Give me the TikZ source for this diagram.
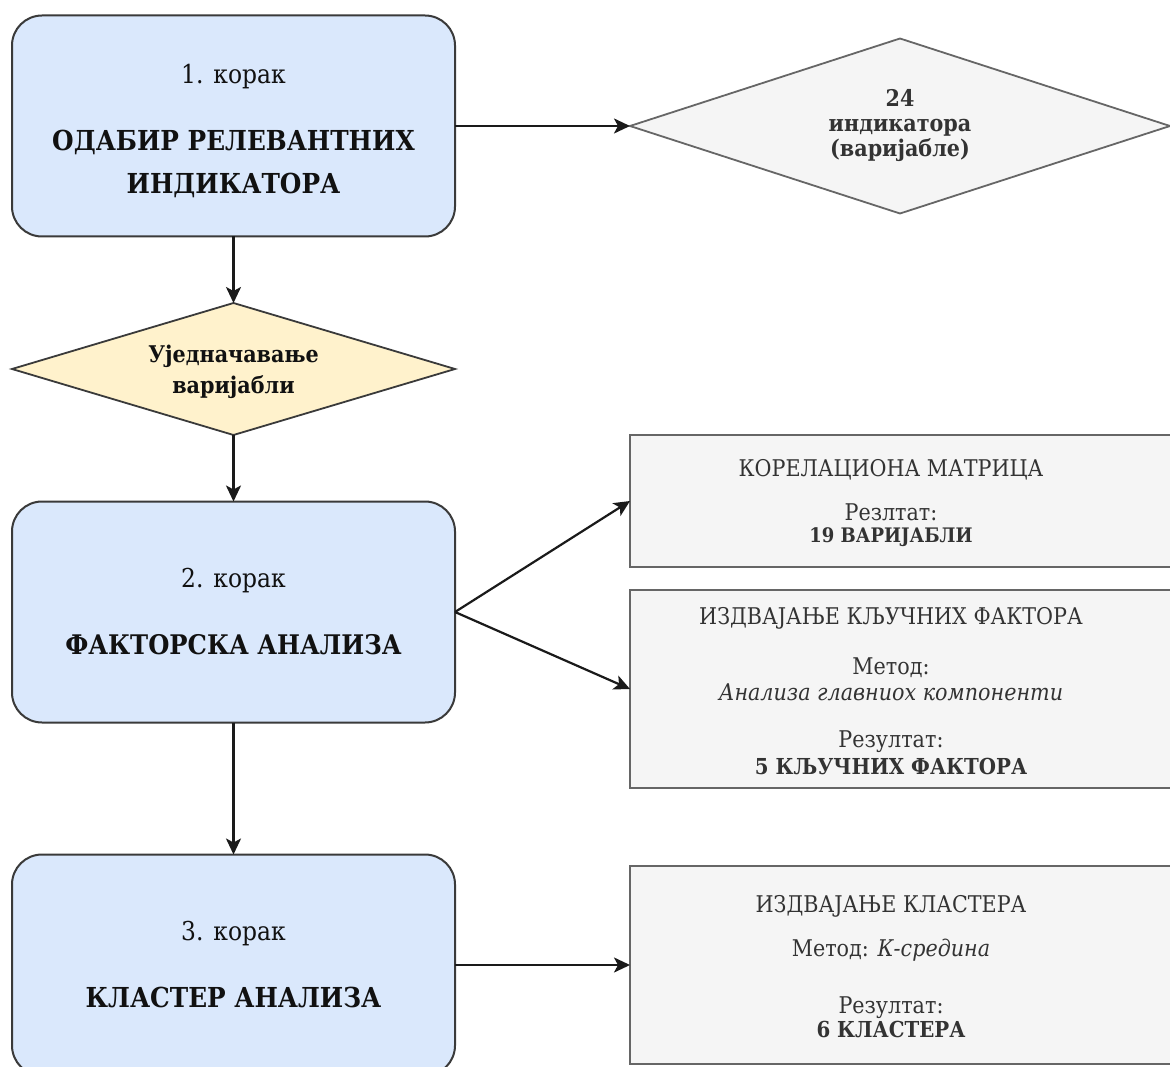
\documentclass[tikz,border=0pt]{standalone}
\usepackage{fontspec}
\setmainfont{DejaVu Serif}[FakeStretch=0.9]
\usetikzlibrary{shapes.geometric,arrows.meta}
\definecolor{bluefill}{HTML}{DAE8FC}
\definecolor{yellowfill}{HTML}{FFF2CC}
\definecolor{grayfill}{HTML}{F5F5F5}
\definecolor{graystroke}{HTML}{666666}
\definecolor{darkstroke}{HTML}{3A3A3A}
\definecolor{graytext}{HTML}{333333}
\definecolor{darktext}{HTML}{111111}
\definecolor{arrowcol}{HTML}{1A1A1A}
\newcommand\fsz[2]{\fontsize{#1}{#2}\selectfont}
\newcommand\shiftedblock[1]{\begin{tabular}{@{}c@{}}#1\end{tabular}\hspace*{28pt}}
\begin{document}
\begin{tikzpicture}[x=1pt,y=-1pt,
  stepbox/.style={draw=darkstroke, fill=bluefill, line width=2pt, rounded corners=30pt,
    minimum width=443pt, minimum height=221pt, align=center, text=darktext,
    inner sep=0pt, outer sep=0pt},
  greydiamond/.style={diamond, draw=graystroke, fill=grayfill, line width=1.8pt,
    minimum width=540pt, minimum height=175pt, aspect=3.08, align=center,
    text=graytext, inner sep=0pt, outer sep=0pt},
  yellowdiamond/.style={diamond, draw=darkstroke, fill=yellowfill, line width=1.8pt,
    minimum width=443pt, minimum height=132pt, aspect=3.36, align=center,
    text=darktext, inner sep=0pt, outer sep=0pt},
  resultbox/.style={draw=graystroke, fill=grayfill, line width=2.5pt, minimum width=550pt,
    text=graytext, inner sep=0pt, outer sep=0pt},
  arrow/.style={draw=arrowcol, line width=2.2pt, -{Stealth[length=16pt,width=15pt,inset=4pt]}}
]
\useasboundingbox (0,0) rectangle (1170,1067);
\clip (0,0) rectangle (1170,1067);
\fill[white] (0,0) rectangle (1170,1067);

% step boxes
\node[stepbox, font=\fsz{27.5}{43}] (s1) at (233.5,126)
  {{\fsz{26}{43}\rule{0pt}{29pt}1. корак}\\[24pt]\textbf{ОДАБИР РЕЛЕВАНТНИХ}\\\textbf{ИНДИКАТОРА}};
\node[stepbox, font=\fsz{27}{43}] (s2) at (233.5,612)
  {{\fsz{26}{43}2. корак}\\[24pt]\textbf{ФАКТОРСКА АНАЛИЗА}};
\node[stepbox, font=\fsz{27.5}{43}] (s3) at (233.5,965)
  {{\fsz{26}{43}3. корак}\\[24pt]\textbf{КЛАСТЕР АНАЛИЗА}};

% diamonds
\node[greydiamond, font=\fsz{23}{25}\bfseries] (d1) at (900,126)
  {24\\индикатора\\(варијабле)};
\node[yellowdiamond, font=\fsz{23}{31}\bfseries] (d2) at (233.5,369)
  {\rule{0pt}{23pt}Уједначавање\\варијабли};

% result boxes
\node[resultbox, minimum height=132pt, font=\fsz{23}{25}] (ra) at (905,501)
  {\shiftedblock{\rule{0pt}{23.5pt}КОРЕЛАЦИОНА МАТРИЦА\\[19pt]Резлтат:\\[-3pt]\fsz{20}{25}\bfseries 19 ВАРИЈАБЛИ}};
\node[resultbox, minimum height=198pt, font=\fsz{23}{26}] (rb) at (905,689)
  {\shiftedblock{\rule{0pt}{28pt}ИЗДВАЈАЊЕ КЉУЧНИХ ФАКТОРА\\[24pt]Метод:\\\itshape Анализа главниох компоненти\\[21pt]Резултат:\\[1pt]\fsz{22}{26}\bfseries 5 КЉУЧНИХ ФАКТОРА}};
\node[resultbox, minimum height=198pt, font=\fsz{23}{25}] (rc) at (905,965)
  {\shiftedblock{\rule{0pt}{26.5pt}ИЗДВАЈАЊЕ КЛАСТЕРА\\[19pt]Метод: \textit{К-средина}\\[32pt]Резултат:\\[-1pt]\fsz{22}{25}\bfseries 6 КЛАСТЕРА}};

% connectors
\draw[arrow] (s1.east) -- (d1.west);
\draw[arrow] (s1.south) -- (d2.north);
\draw[arrow] (d2.south) -- (s2.north);
\draw[arrow] (s2.east) -- (ra.west);
\draw[arrow] (s2.east) -- (rb.west);
\draw[arrow] (s2.south) -- (s3.north);
\draw[arrow] (s3.east) -- (rc.west);
\end{tikzpicture}
\end{document}
